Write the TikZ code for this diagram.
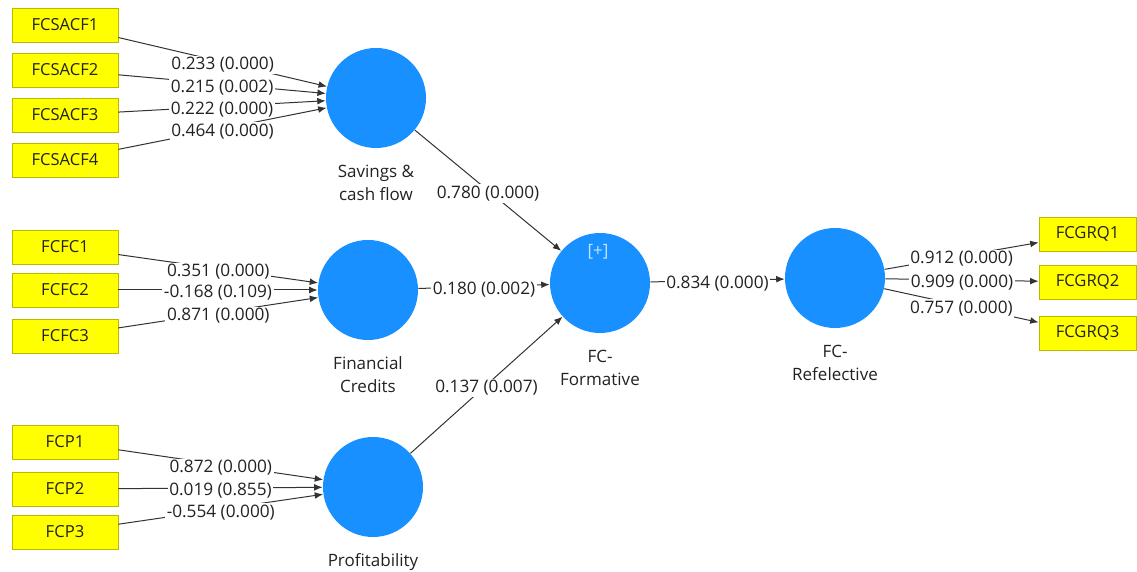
\documentclass[tikz,border=0pt]{standalone}
\usepackage{fontspec}
\setmainfont{Open Sans}
\usetikzlibrary{arrows.meta, positioning}
\definecolor{lvblue}{RGB}{24,144,255}
\definecolor{indfill}{RGB}{255,255,0}
\definecolor{indedge}{RGB}{185,185,0}
\definecolor{inktext}{RGB}{34,34,34}
\tikzset{%
	ind/.style={draw=indedge, fill=indfill, rectangle, minimum width=53pt,%
		minimum height=17pt, inner sep=0pt, text=inktext, font=\fontsize{8.3}{10}\selectfont},
	lv/.style={circle, fill=lvblue, minimum size=50pt, inner sep=0pt},
	lvname/.style={align=center, text=inktext, inner sep=1pt,%
		font=\fontsize{8.5}{11.5}\selectfont},
	link/.style={draw=black!80, line width=0.5pt},
	relation/.style={link, -{Latex[length=4.2pt, width=3.4pt]}},
	wt/.style={fill=white, inner sep=0.8pt, yshift=-1.5pt, text=inktext,%
		font=\fontsize{8.6}{10}\selectfont},
	plus/.style={text=white!75!lvblue, font=\fontsize{8.5}{10}\selectfont}
}
\begin{document}
\begin{tikzpicture}[x=0.5pt, y=-0.5pt, every label/.style={lvname}, label distance=7pt]
	\fill[white] (0,0) rectangle (1137,572);
	\useasboundingbox (0,0) rectangle (1137,572);

	% latent variables
	\node[lv, label=below:{Savings \&\\cash flow}] (sav) at (376,98) {};
	\node[lv, label=below:{Financial\\Credits}] (fin) at (368,290) {};
	\node[lv, label=below:{Profitability}] (pro) at (373,487) {};
	\node[lv, label=below:{FC-\\Formative}] (form) at (600,283) {};
	\node[lv, label=below:{FC-\\Refelective}] (refl) at (835,278) {};
	\node[plus] (plusmark) at (598,252) {[+]};

	% indicators
	\node[ind] (sa1) at (65,25) {FCSACF1};
	\node[ind] (sa2) at (65,70) {FCSACF2};
	\node[ind] (sa3) at (65,115) {FCSACF3};
	\node[ind] (sa4) at (65,160) {FCSACF4};
	\node[ind] (fc1) at (65,247) {FCFC1};
	\node[ind] (fc2) at (65,290) {FCFC2};
	\node[ind] (fc3) at (65,336) {FCFC3};
	\node[ind] (fp1) at (65,442) {FCP1};
	\node[ind] (fp2) at (65,489) {FCP2};
	\node[ind] (fp3) at (65,532) {FCP3};
	\node[ind, minimum width=48.5pt] (gq1) at (1087.5,234) {FCGRQ1};
	\node[ind, minimum width=48.5pt] (gq2) at (1087.5,282) {FCGRQ2};
	\node[ind, minimum width=48.5pt] (gq3) at (1087.5,333) {FCGRQ3};

	% formative weights
	\draw[relation] (sa1) to node[wt]{0.233 (0.000)} (sav);
	\draw[relation] (sa2) to node[wt]{0.215 (0.002)} (sav);
	\draw[relation] (sa3) to node[wt]{0.222 (0.000)} (sav);
	\draw[relation] (sa4) to node[wt]{0.464 (0.000)} (sav);
	\draw[relation] (fc1) to node[wt]{0.351 (0.000)} (fin);
	\draw[relation] (fc2) to node[wt]{-0.168 (0.109)} (fin);
	\draw[relation] (fc3) to node[wt]{0.871 (0.000)} (fin);
	\draw[relation] (fp1) to node[wt]{0.872 (0.000)} (pro);
	\draw[relation] (fp2) to node[wt]{0.019 (0.855)} (pro);
	\draw[relation] (fp3) to node[wt]{-0.554 (0.000)} (pro);

	% structural paths
	\draw[relation] (sav) to node[wt]{0.780 (0.000)} (form);
	\draw[relation] (fin) to node[wt]{0.180 (0.002)} (form);
	\draw[relation] (pro) to node[wt]{0.137 (0.007)} (form);
	\draw[relation] (form) to node[wt]{0.834 (0.000)} (refl);

	% reflective loadings
	\draw[relation] (refl) to node[wt]{0.912 (0.000)} (gq1);
	\draw[relation] (refl) to node[wt]{0.909 (0.000)} (gq2);
	\draw[relation] (refl) to node[wt]{0.757 (0.000)} (gq3);
\end{tikzpicture}
\end{document}
